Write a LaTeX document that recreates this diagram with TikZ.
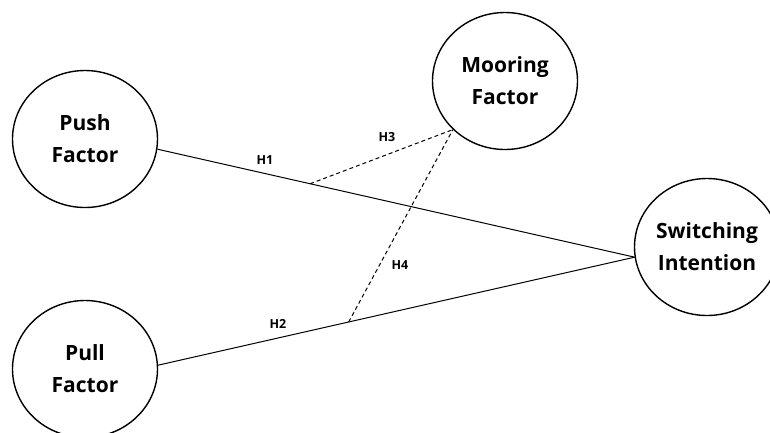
\documentclass[tikz,border=0pt]{standalone}
\usepackage{fontspec}
\setmainfont{Open Sans}
\usetikzlibrary{shapes.geometric}

\begin{document}
\begin{tikzpicture}[x=1pt,y=-1pt,
  factor/.style={ellipse,draw,line width=1.4pt,minimum width=145pt,minimum height=137pt,
    inner sep=0pt,align=center,font=\bfseries\fontsize{21}{32}\selectfont},
  hyp/.style={font=\bfseries\fontsize{12.5}{15}\selectfont},
  link/.style={line width=1pt},
  moderate/.style={line width=1pt,dash pattern=on 4pt off 3pt}]
  \useasboundingbox (0,0) rectangle (770,432);
  \foreach \name/\x/\y/\lab in {push/85/139/{Push\\Factor},pull/85/369/{Pull\\Factor},
      moor/505/81/{Mooring\\Factor},sw/707/247/{Switching\\Intention}} {
    \node[factor] (\name) at (\x,\y) {\lab};
  }
  % direct paths
  \draw[link] (push.-8) -- coordinate[pos=0.32] (j1) (sw.188);
  \draw[link] (pull.3) -- coordinate[pos=0.40] (j2) (sw.188);
  % moderating paths
  \draw[moderate] (j1) -- (moor.223);
  \draw[moderate] (j2) -- (moor.223);
  \foreach \h/\x/\y in {h1/265/160,h2/278/324,h3/387/137,h4/400/265} {
    \node[hyp] (\h) at (\x,\y) {\MakeUppercase{\h}};
  }
\end{tikzpicture}
\end{document}
